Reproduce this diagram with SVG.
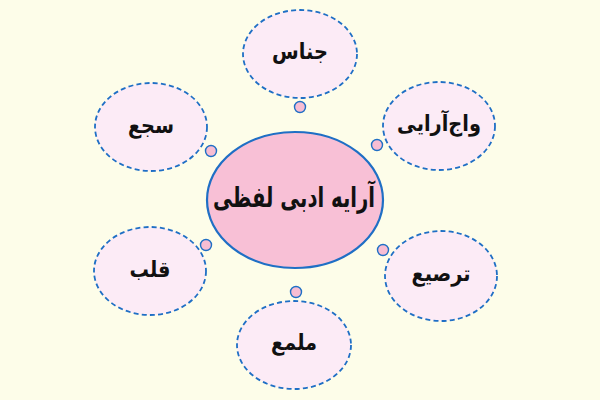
<svg xmlns="http://www.w3.org/2000/svg" width="600" height="400" viewBox="0 0 600 400">
<style>
.node{fill:#fcebf6;stroke:#1f6fc5;stroke-width:1.8;stroke-dasharray:5 3.2}
.dot{fill:#f7bdd3;stroke:#1f6fc5;stroke-width:1.4}
.lbl{font-family:"DejaVu Sans",sans-serif;font-size:22px;font-weight:bold;fill:#111;text-anchor:middle;dominant-baseline:central}
.main{fill:#f8c0d6;stroke:#1f6fc5;stroke-width:2.2}
.mlbl{font-family:"DejaVu Sans",sans-serif;font-size:28px;font-weight:bold;fill:#111;text-anchor:middle;dominant-baseline:central}
</style>
<rect width="600" height="400" fill="#fdfde9"/>
<g id="connectors">
<circle class="dot" cx="300" cy="107" r="5.5"/>
<circle class="dot" cx="211" cy="151" r="5.5"/>
<circle class="dot" cx="377" cy="145" r="5.5"/>
<circle class="dot" cx="383" cy="250" r="5.5"/>
<circle class="dot" cx="206" cy="245" r="5.5"/>
<circle class="dot" cx="296" cy="292" r="5.5"/>
</g>
<g id="center">
<ellipse class="main" cx="295" cy="200" rx="88" ry="68"/>
<text class="mlbl" transform="translate(294 198) scale(0.7 1)">آرایه ادبی لفظی</text>
</g>
<g id="jenas">
<ellipse class="node" cx="300" cy="54" rx="57" ry="44"/>
<text class="lbl" transform="translate(300 52) scale(0.88 1)">جناس</text>
</g>
<g id="saja">
<ellipse class="node" cx="151" cy="127" rx="56" ry="44"/>
<text class="lbl" transform="translate(151 126) scale(0.88 1)">سجع</text>
</g>
<g id="vajarayi">
<ellipse class="node" cx="439" cy="126" rx="56" ry="44"/>
<text class="lbl" transform="translate(439 124) scale(0.88 1)">واج‌آرایی</text>
</g>
<g id="tarsi">
<ellipse class="node" cx="441" cy="276" rx="56" ry="45"/>
<text class="lbl" transform="translate(441 274) scale(0.88 1)">ترصیع</text>
</g>
<g id="qalb">
<ellipse class="node" cx="150" cy="271" rx="56" ry="44"/>
<text class="lbl" transform="translate(150 270) scale(0.88 1)">قلب</text>
</g>
<g id="molamma">
<ellipse class="node" cx="294" cy="345" rx="57" ry="44"/>
<text class="lbl" transform="translate(294 343) scale(0.88 1)">ملمع</text>
</g>
</svg>
